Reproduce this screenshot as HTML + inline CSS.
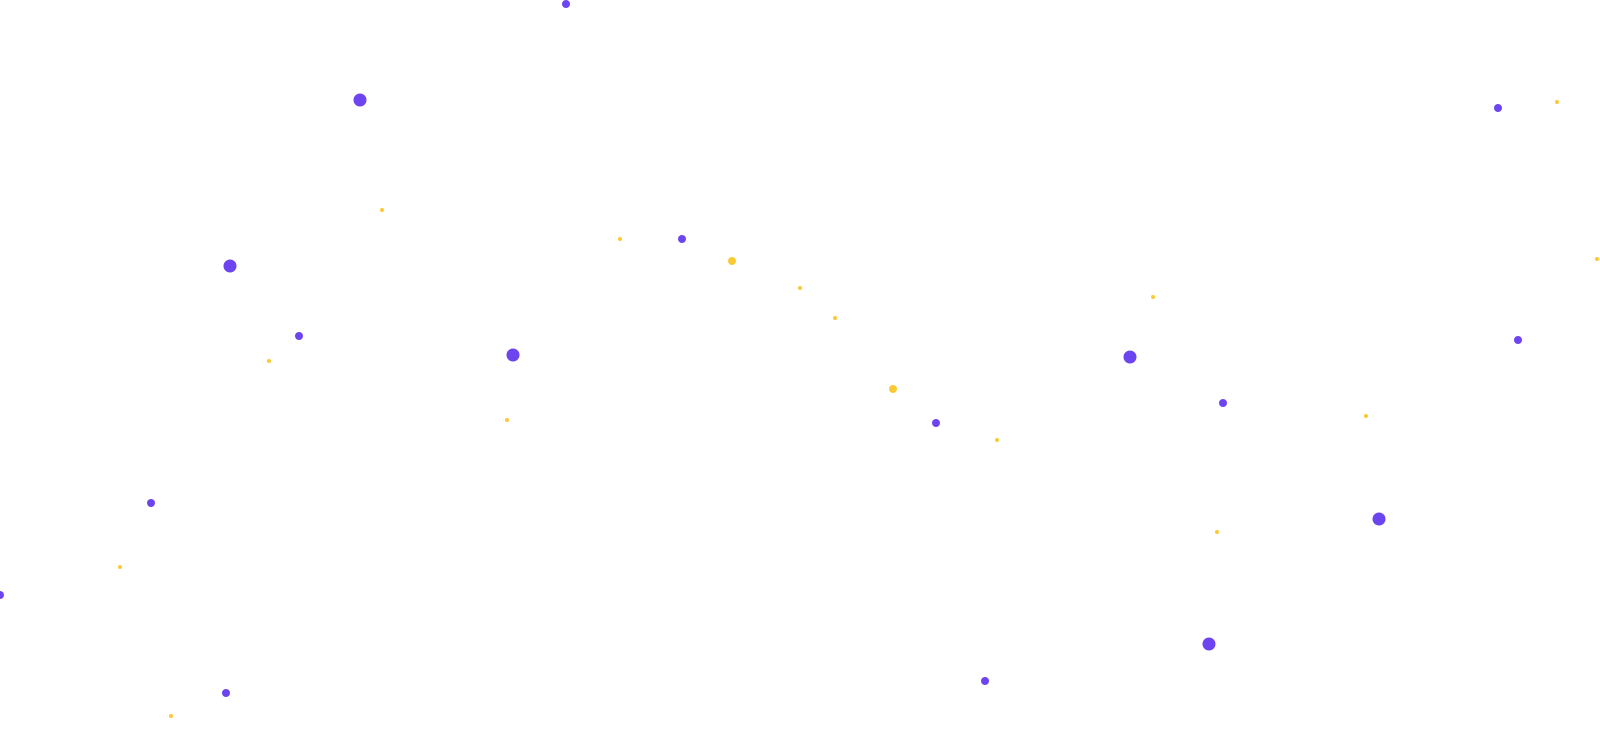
<!DOCTYPE html>
<html><head><meta charset="utf-8"><style>
html,body{margin:0;padding:0;background:#fff;width:1600px;height:734px;overflow:hidden}
</style></head><body>
<svg width="1600" height="734" viewBox="0 0 1600 734" xmlns="http://www.w3.org/2000/svg">
<g fill="#6c45f0">
<circle cx="566" cy="4" r="4"/>
<circle cx="360" cy="100" r="6.5"/>
<circle cx="230" cy="266" r="6.5"/>
<circle cx="682" cy="239" r="4"/>
<circle cx="299" cy="336" r="4"/>
<circle cx="513" cy="355" r="6.5"/>
<circle cx="151" cy="503" r="4"/>
<circle cx="0" cy="595" r="4"/>
<circle cx="226" cy="693" r="4"/>
<circle cx="1498" cy="108" r="4"/>
<circle cx="1518" cy="340" r="4"/>
<circle cx="1130" cy="357" r="6.5"/>
<circle cx="1223" cy="403" r="4"/>
<circle cx="936" cy="423" r="4"/>
<circle cx="1379" cy="519" r="6.5"/>
<circle cx="1209" cy="644" r="6.5"/>
<circle cx="985" cy="681" r="4"/>
</g>
<g fill="#fbc934">
<circle cx="382" cy="210" r="2"/>
<circle cx="620" cy="239" r="2"/>
<circle cx="732" cy="261" r="4"/>
<circle cx="800" cy="288" r="2"/>
<circle cx="835" cy="318" r="2"/>
<circle cx="269" cy="361" r="2"/>
<circle cx="507" cy="420" r="2"/>
<circle cx="893" cy="389" r="4"/>
<circle cx="997" cy="440" r="2"/>
<circle cx="1153" cy="297" r="2"/>
<circle cx="1366" cy="416" r="2"/>
<circle cx="1217" cy="532" r="2"/>
<circle cx="120" cy="567" r="2"/>
<circle cx="171" cy="716" r="2"/>
<circle cx="1557" cy="102" r="2"/>
<circle cx="1597" cy="259" r="2"/>
</g>
</svg>
</body></html>
